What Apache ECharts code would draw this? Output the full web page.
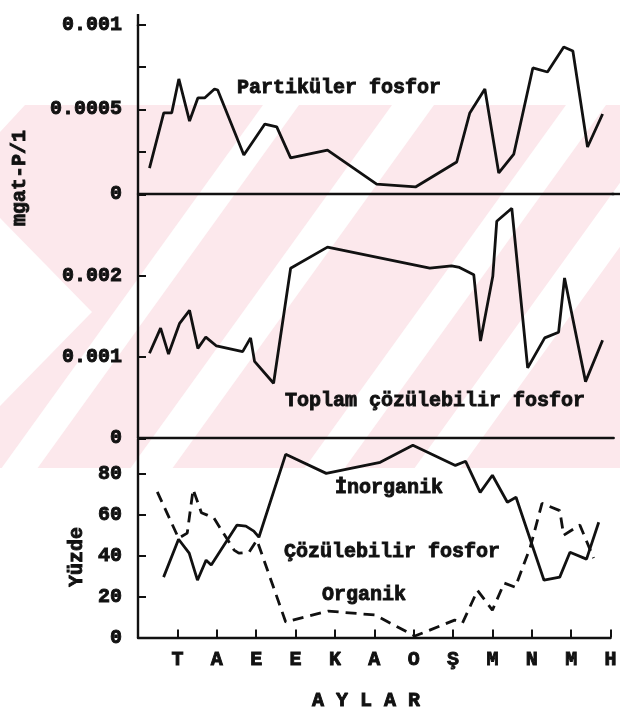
<!DOCTYPE html>
<html>
<head>
<meta charset="utf-8">
<script src="https://cdn.jsdelivr.net/npm/echarts@6/dist/echarts.min.js"></script>
<style>
html,body{margin:0;padding:0;background:#fff;}
#c{width:620px;height:713px;}
</style>
</head>
<body>
<div id="c"></div>
<script>
// ---- data (x in month units: 0 = T ... 11 = H) ----
const months = ['T','A','E','E','K','A','O','Ş','M','N','M','H'];
const yTicks1 = ['0','','0.0005','','0.001'];
const yTicks2 = ['0','0.001','0.002'];
const yTicks3 = ['0','20','40','60','80'];

const partX = [-0.71,-0.35,-0.15,0.03,0.30,0.51,0.68,0.93,1.01,1.67,2.20,2.50,2.85,3.78,5.02,6.00,7.04,7.37,7.75,8.10,8.48,8.96,9.33,9.74,9.97,10.34,10.72];
const partY = [0.000151,0.000478,0.000478,0.00068,0.00043,0.000567,0.000567,0.00062,0.000614,0.000228,0.000412,0.000395,0.000211,0.000258,0.000056,0.000039,0.000187,0.000478,0.00062,0.000122,0.000234,0.000745,0.000721,0.000869,0.000846,0.000276,0.000472];

const totX = [-0.71,-0.43,-0.23,0.05,0.30,0.51,0.71,0.98,1.64,1.84,1.94,2.42,2.85,3.78,6.36,6.91,7.11,7.47,7.64,7.95,8.05,8.43,8.83,9.26,9.61,9.76,10.29,10.72];
const totY = [0.00104,0.00135,0.00103,0.00141,0.00157,0.00110,0.00124,0.00113,0.00106,0.00123,0.00094,0.00067,0.00209,0.00235,0.00209,0.00212,0.00210,0.00201,0.00119,0.00199,0.00267,0.00283,0.00086,0.00123,0.00130,0.00197,0.00069,0.00120];

const inorgX = [-0.35,0.03,0.30,0.51,0.73,0.86,1.51,1.74,1.94,2.07,2.75,3.78,5.15,5.98,7.06,7.32,7.69,8.00,8.38,8.60,9.31,9.71,9.97,10.39,10.70];
const inorgY = [29.5,48.0,41.2,28.0,37.8,35.4,54.9,54.4,52.0,49.0,89.5,80.2,85.6,93.9,84.1,86.1,70.9,79.3,66.1,68.5,28.0,29.5,41.7,38.3,56.3];

const orgX = [-0.51,0.03,0.25,0.40,0.61,0.76,0.93,1.44,1.56,1.82,2.02,2.75,3.83,5.02,6.03,7.04,7.24,7.62,8.00,8.30,8.58,8.96,9.26,9.71,9.81,10.22,10.57];
const orgY = [71.2,48.5,51.0,72.4,61.0,59.8,58.3,42.7,41.2,41.7,47.6,7.6,12.9,11.0,0.7,8.5,7.1,23.0,13.4,26.6,24.6,44.0,65.6,62.0,50.0,55.0,38.8];

const FONT = 'Liberation Mono';
const INK = '#111';
const TB = 0.9; // extra stroke to mimic heavy typewriter text

function pairs(xs, ys){ return xs.map((x,i)=>[x, ys[i]]); }

const chart = echarts.init(document.getElementById('c'), null, {renderer:'canvas'});

const GL = 138, GW = 475.7;
const grids = [
  {left:GL, top:25, width:GW, height:168.5},
  {left:GL, top:194.5, width:GW, height:243},
  {left:GL, top:439, width:GW, height:198.5}
];

const labelBase = {fontFamily:FONT, fontWeight:'bold', fontSize:20, color:INK, textBorderColor:INK, textBorderWidth:TB};

function xAx(i, show){
  return {
    type:'value', gridIndex:i, min:-1, max:11, interval:1,
    axisLine:{show:true, onZero:false, lineStyle:{color:INK, width:2.4}},
    axisTick:{show:show, inside:true, length:8, lineStyle:{color:INK, width:2}},
    axisLabel:Object.assign({show:show, margin:12,
      formatter:function(v){ const k=Math.round(v); return (k>=0 && k<months.length)? months[k] : ''; }}, labelBase),
    splitLine:{show:false}
  };
}
function yAx(i, min, max, interval, labels, step){
  return {
    type:'value', gridIndex:i, min:min, max:max, interval:interval,
    axisLine:{show:true, onZero:false, lineStyle:{color:INK, width:2.4}},
    axisTick:{show:true, inside:true, length:8, lineStyle:{color:INK, width:2}},
    axisLabel:Object.assign({margin:16,
      formatter:function(v){
        const k = Math.round(v/step);
        if (Math.abs(v/step - k) > 1e-6) return '';
        return (k>=0 && k<labels.length) ? labels[k] : '';
      }}, labelBase),
    splitLine:{show:false}
  };
}

// watermark shapes (background decoration)
const PINK = '#fce8ec';
const wm = [];
wm.push({type:'rect', z:-10, shape:{x:0,y:105,width:620,height:363}, style:{fill:PINK}});
function stripe(x0, w, k){ // "/" stripe starting at top y=105, slope dx/dy = -k
  const dy = 363;
  return {type:'polygon', z:-9, shape:{points:[[x0,105],[x0+w,105],[x0+w-k*dy,468],[x0-k*dy,468]]}, style:{fill:'#fff'}};
}
wm.push(stripe(263,36,0.72));
wm.push(stripe(392,42,0.72));
wm.push(stripe(566,40,0.72));
wm.push(stripe(676,46,0.72));
wm.push({type:'polygon', z:-9, shape:{points:[[0,105],[25,105],[0,132]]}, style:{fill:'#fff'}});
wm.push({type:'polygon', z:-9, shape:{points:[[0,218],[92,312],[0,406]]}, style:{fill:'#fff'}});

function txt(x, y, s, align){
  return {type:'text', x:x, y:y, z:10, style:{text:s, fontFamily:FONT, fontWeight:'bold', fontSize:20, fill:INK, stroke:INK, lineWidth:TB, align:align||'left', verticalAlign:'middle'}};
}
function vtxt(x, y, s){
  return {type:'text', x:x, y:y, rotation:Math.PI/2, z:10, style:{text:s, fontFamily:FONT, fontWeight:'bold', fontSize:20, fill:INK, stroke:INK, lineWidth:TB, align:'center', verticalAlign:'middle'}};
}
const graphics = wm.concat([
  {type:'line', z:5, shape:{x1:GL, y1:14, x2:GL, y2:26}, style:{stroke:INK, lineWidth:2.4}},
  {type:'line', z:5, shape:{x1:GL+GW-2, y1:194, x2:620, y2:194}, style:{stroke:INK, lineWidth:2.4}},
  txt(237, 88, 'Partiküler fosfor'),
  txt(285, 401, 'Toplam çözülebilir fosfor'),
  txt(335, 488, 'İnorganik'),
  txt(284, 552, 'Çözülebilir fosfor'),
  txt(322, 595, 'Organik'),
  txt(366, 701, 'A Y L A R', 'center'),
  vtxt(20, 178, 'mgat-P/1'),
  vtxt(77, 557, 'Yüzde')
]);

const lineStyle = {color:INK, width:2.8};
chart.setOption({
  animation:false,
  backgroundColor:'#fff',
  grid:grids,
  xAxis:[xAx(0,false), xAx(1,false), xAx(2,true)],
  yAxis:[
    yAx(0, 0, 0.001, 0.00025, yTicks1, 0.00025),
    yAx(1, 0, 0.003, 0.001, yTicks2, 0.001),
    yAx(2, 0, 97, 20, yTicks3, 20)
  ],
  series:[
    {name:'Partiküler fosfor', type:'line', xAxisIndex:0, yAxisIndex:0, data:pairs(partX, partY), symbol:'none', lineStyle:lineStyle},
    {name:'Toplam çözülebilir fosfor', type:'line', xAxisIndex:1, yAxisIndex:1, data:pairs(totX, totY), symbol:'none', lineStyle:lineStyle},
    {name:'İnorganik', type:'line', xAxisIndex:2, yAxisIndex:2, data:pairs(inorgX, inorgY), symbol:'none', lineStyle:lineStyle},
    {name:'Organik', type:'line', xAxisIndex:2, yAxisIndex:2, data:pairs(orgX, orgY), symbol:'none', lineStyle:{color:INK, width:2.8, type:[11,7]}}
  ],
  graphic:graphics
});
</script>
</body>
</html>
